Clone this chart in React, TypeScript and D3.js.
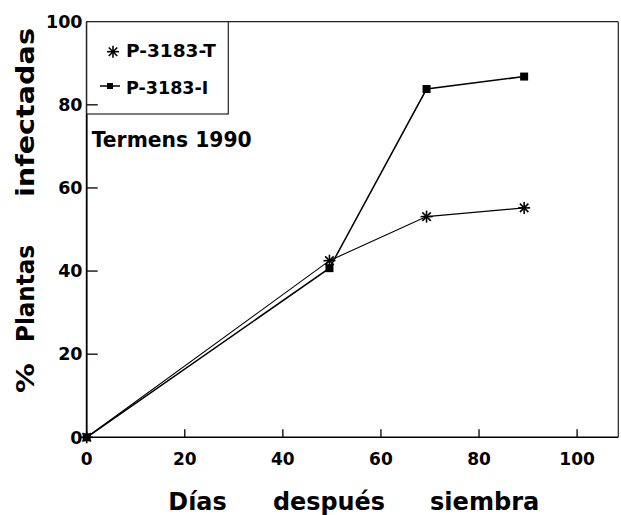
import React from "react";
import * as d3 from "d3";

const days = [0, 49.5, 69.3, 89.2];
const seriesT = [0, 42.5, 53.1, 55.2];
const seriesI = [0, 40.7, 83.8, 86.8];
const xTicks = [0, 20, 40, 60, 80, 100];
const yTicks = [0, 20, 40, 60, 80, 100];
const legendLabels = ["P-3183-T", "P-3183-I"];
const annotation = "Termens 1990";
const xTitleWords = ["Días", "después", "siembra"];
const yTitleWords = ["%", "Plantas", "infectadas"];

const W = 621;
const H = 515;
const FONT = "'DejaVu Sans', 'Liberation Sans', Arial, sans-serif";

function Star({ cx, cy, r }: { cx: number; cy: number; r: number }) {
  const angles = [0, 45, 90, 135];
  return (
    <g stroke="#000" strokeWidth={1.6}>
      {angles.map((a) => {
        const rad = (a * Math.PI) / 180;
        const dx = Math.cos(rad) * r;
        const dy = Math.sin(rad) * r;
        return <line key={a} x1={cx - dx} y1={cy - dy} x2={cx + dx} y2={cy + dy} />;
      })}
    </g>
  );
}

export default function App() {
  const x = d3.scaleLinear().domain([0, 108.4]).range([86.7, 618.3]);
  const y = d3.scaleLinear().domain([0, 100]).range([437.3, 21.7]);

  const line = d3
    .line<number>()
    .x((_, i) => x(days[i]))
    .y((d) => y(d));

  const x0 = x(0);
  const y0 = y(0);
  const xr = x(108.4);
  const yt = y(100);

  const xTitleCenters = [197.5, 329, 484.7];
  const xTitleLengths = [58.4, 112, 109.3];
  const yTitleCenters = [378, 293.5, 112.5];
  const yTitleLengths = [30, 97, 169];

  return (
    <svg
      width={W}
      height={H}
      style={{ position: "absolute", left: 0, top: 0, background: "#fff" }}
      fontFamily={FONT}
      fontWeight="bold"
    >
      <rect width={W} height={H} fill="#fff" />
      <line x1={x0} y1={yt} x2={xr} y2={yt} stroke="#222" strokeWidth={1.2} />
      <line x1={xr} y1={yt} x2={xr} y2={y0} stroke="#222" strokeWidth={1.2} />
      <line x1={x0} y1={yt} x2={x0} y2={y0} stroke="#000" strokeWidth={1.8} />
      <line x1={x0} y1={y0} x2={xr} y2={y0} stroke="#000" strokeWidth={1.6} />

      {yTicks.map((t) => (
        <g key={"y" + t}>
          {t > 0 && t < 100 && (
            <line x1={x0} y1={y(t)} x2={x0 + 11} y2={y(t)} stroke="#000" strokeWidth={1.3} />
          )}
          <text x={82.5} y={y(t)} dy="0.36em" textAnchor="end" fontSize={17.5} fill="#000">
            {t}
          </text>
        </g>
      ))}

      {xTicks.map((t) => (
        <g key={"x" + t}>
          {t > 0 && (
            <line x1={x(t)} y1={y0} x2={x(t)} y2={y0 - 8} stroke="#000" strokeWidth={1.3} />
          )}
          <text x={x(t)} y={464.5} textAnchor="middle" fontSize={17} fill="#000">
            {t}
          </text>
        </g>
      ))}

      <path d={line(seriesT) || ""} fill="none" stroke="#000" strokeWidth={1.1} />
      <path d={line(seriesI) || ""} fill="none" stroke="#000" strokeWidth={1.5} />

      {seriesI.map((v, i) => (
        <rect
          key={"sq" + i}
          x={x(days[i]) - 4}
          y={y(v) - 4}
          width={8}
          height={8}
          fill="#000"
        />
      ))}
      {seriesT.map((v, i) => (
        <Star key={"st" + i} cx={x(days[i])} cy={y(v)} r={6} />
      ))}

      <rect x={x0} y={yt} width={141.6} height={92.3} fill="#fff" stroke="#222" strokeWidth={1.2} />
      <line x1={x0} y1={y(80)} x2={x0 + 11} y2={y(80)} stroke="#000" strokeWidth={1.3} />
      <Star cx={113} cy={51.7} r={6} />
      <text x={126} y={57.3} fontSize={18} textLength={90} lengthAdjust="spacingAndGlyphs" fill="#000">
        {legendLabels[0]}
      </text>
      <line x1={100} y1={86} x2={120} y2={86} stroke="#000" strokeWidth={1.5} />
      <rect x={107} y={83} width={6} height={6} fill="#000" />
      <text x={126} y={94.3} fontSize={18} textLength={82.3} lengthAdjust="spacingAndGlyphs" fill="#000">
        {legendLabels[1]}
      </text>

      <text x={91.7} y={146.7} fontSize={21} textLength={160} lengthAdjust="spacingAndGlyphs" fill="#000">
        {annotation}
      </text>

      {xTitleWords.map((w, i) => (
        <text
          key={w}
          x={xTitleCenters[i]}
          y={509.5}
          textAnchor="middle"
          fontSize={25}
          textLength={xTitleLengths[i]}
          lengthAdjust="spacingAndGlyphs"
          fill="#000"
        >
          {w}
        </text>
      ))}

      {yTitleWords.map((w, i) => (
        <text
          key={w}
          transform={`translate(33.5, ${yTitleCenters[i]}) rotate(-90)`}
          textAnchor="middle"
          fontSize={25}
          textLength={yTitleLengths[i]}
          lengthAdjust="spacingAndGlyphs"
          fill="#000"
        >
          {w}
        </text>
      ))}
    </svg>
  );
}
